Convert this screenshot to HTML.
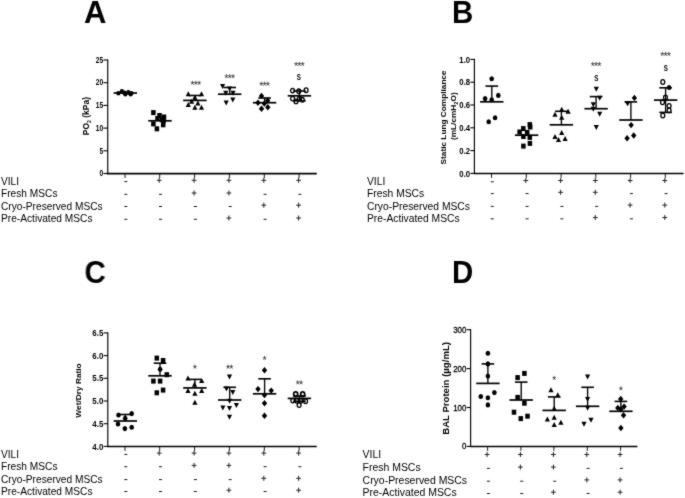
<!DOCTYPE html>
<html><head><meta charset="utf-8"><style>
html,body{margin:0;padding:0;background:#fff;}
svg{display:block;will-change:transform;}
text{font-family:"Liberation Sans", sans-serif;fill:#000;}
</style></head><body>
<svg width="685" height="498" viewBox="0 0 685 498">
<defs><filter id="sb" x="0" y="0" width="100%" height="100%" filterUnits="userSpaceOnUse" color-interpolation-filters="sRGB"><feConvolveMatrix order="3" kernelMatrix="1 2 1 2 20 2 1 2 1" preserveAlpha="false" edgeMode="none"/></filter></defs>
<rect width="685" height="498" fill="#fff"/>
<g filter="url(#sb)">
<text x="84.00" y="23.00" font-size="31" text-anchor="start" font-weight="bold" >A</text>
<line x1="107.75" y1="59.40" x2="107.75" y2="174.10" stroke="#000" stroke-width="1.15"/>
<line x1="106.80" y1="173.65" x2="316.80" y2="173.65" stroke="#000" stroke-width="1.6"/>
<line x1="103.40" y1="60.00" x2="107.75" y2="60.00" stroke="#000" stroke-width="1.1"/>
<text transform="translate(103.10,62.76) scale(0.78,1.0)" font-size="8.5" text-anchor="end" font-weight="bold" >25</text>
<line x1="103.40" y1="82.70" x2="107.75" y2="82.70" stroke="#000" stroke-width="1.1"/>
<text transform="translate(103.10,85.46) scale(0.78,1.0)" font-size="8.5" text-anchor="end" font-weight="bold" >20</text>
<line x1="103.40" y1="105.40" x2="107.75" y2="105.40" stroke="#000" stroke-width="1.1"/>
<text transform="translate(103.10,108.16) scale(0.78,1.0)" font-size="8.5" text-anchor="end" font-weight="bold" >15</text>
<line x1="103.40" y1="128.10" x2="107.75" y2="128.10" stroke="#000" stroke-width="1.1"/>
<text transform="translate(103.10,130.86) scale(0.78,1.0)" font-size="8.5" text-anchor="end" font-weight="bold" >10</text>
<line x1="103.40" y1="150.80" x2="107.75" y2="150.80" stroke="#000" stroke-width="1.1"/>
<text transform="translate(103.10,153.56) scale(0.78,1.0)" font-size="8.5" text-anchor="end" font-weight="bold" >5</text>
<line x1="103.40" y1="173.50" x2="107.75" y2="173.50" stroke="#000" stroke-width="1.1"/>
<text transform="translate(103.10,176.26) scale(0.78,1.0)" font-size="8.5" text-anchor="end" font-weight="bold" >0</text>
<line x1="125.00" y1="173.50" x2="125.00" y2="178.00" stroke="#000" stroke-width="0.9"/>
<line x1="159.70" y1="173.50" x2="159.70" y2="178.00" stroke="#000" stroke-width="0.9"/>
<line x1="194.60" y1="173.50" x2="194.60" y2="178.00" stroke="#000" stroke-width="0.9"/>
<line x1="229.40" y1="173.50" x2="229.40" y2="178.00" stroke="#000" stroke-width="0.9"/>
<line x1="264.30" y1="173.50" x2="264.30" y2="178.00" stroke="#000" stroke-width="0.9"/>
<line x1="299.10" y1="173.50" x2="299.10" y2="178.00" stroke="#000" stroke-width="0.9"/>
<text transform="translate(89.30,116.10) rotate(-90) scale(0.94,1)" font-size="9" font-weight="bold" text-anchor="middle">PO<tspan font-size="5.5" dy="1.8">2</tspan><tspan dy="-1.8"> (kPa)</tspan></text>
<ellipse cx="118.40" cy="93.30" rx="2.15" ry="2.3" fill="#000"/>
<ellipse cx="121.90" cy="91.40" rx="2.15" ry="2.3" fill="#000"/>
<ellipse cx="124.50" cy="92.80" rx="2.15" ry="2.3" fill="#000"/>
<ellipse cx="125.30" cy="94.20" rx="2.15" ry="2.3" fill="#000"/>
<ellipse cx="128.30" cy="92.40" rx="2.15" ry="2.3" fill="#000"/>
<ellipse cx="131.40" cy="93.30" rx="2.15" ry="2.3" fill="#000"/>
<ellipse cx="130.60" cy="94.30" rx="2.15" ry="2.3" fill="#000"/>
<line x1="113.60" y1="93.00" x2="137.00" y2="93.00" stroke="#000" stroke-width="1.7"/>
<rect x="151.15" y="110.10" width="4.5" height="5.0" fill="#000"/>
<rect x="157.25" y="113.00" width="4.5" height="5.0" fill="#000"/>
<rect x="161.75" y="114.50" width="4.5" height="5.0" fill="#000"/>
<rect x="155.25" y="116.00" width="4.5" height="5.0" fill="#000"/>
<rect x="159.75" y="117.30" width="4.5" height="5.0" fill="#000"/>
<rect x="161.35" y="118.30" width="4.5" height="5.0" fill="#000"/>
<rect x="151.15" y="121.40" width="4.5" height="5.0" fill="#000"/>
<rect x="160.95" y="122.30" width="4.5" height="5.0" fill="#000"/>
<rect x="154.65" y="126.30" width="4.5" height="5.0" fill="#000"/>
<line x1="148.30" y1="120.80" x2="171.70" y2="120.80" stroke="#000" stroke-width="1.7"/>
<line x1="194.90" y1="100.40" x2="194.90" y2="95.50" stroke="#000" stroke-width="1.35"/>
<line x1="188.60" y1="95.50" x2="201.20" y2="95.50" stroke="#000" stroke-width="1.6"/>
<path d="M188.30 91.20L190.90 96.20L185.70 96.20Z" fill="#000"/>
<path d="M201.50 91.20L204.10 96.20L198.90 96.20Z" fill="#000"/>
<path d="M194.90 94.80L197.50 99.80L192.30 99.80Z" fill="#000"/>
<path d="M191.60 98.70L194.20 103.70L189.00 103.70Z" fill="#000"/>
<path d="M188.30 102.00L190.90 107.00L185.70 107.00Z" fill="#000"/>
<path d="M197.90 100.50L200.50 105.50L195.30 105.50Z" fill="#000"/>
<path d="M194.90 104.80L197.50 109.80L192.30 109.80Z" fill="#000"/>
<path d="M201.50 104.80L204.10 109.80L198.90 109.80Z" fill="#000"/>
<line x1="183.20" y1="100.40" x2="206.60" y2="100.40" stroke="#000" stroke-width="1.7"/>
<path d="M192.50 82.90L192.50 80.77M192.50 82.90L194.26 82.24M192.50 82.90L190.74 82.24M192.50 82.90L193.59 84.62M192.50 82.90L191.41 84.62M195.80 82.90L195.80 80.77M195.80 82.90L197.56 82.24M195.80 82.90L194.04 82.24M195.80 82.90L196.89 84.62M195.80 82.90L194.71 84.62M199.10 82.90L199.10 80.77M199.10 82.90L200.86 82.24M199.10 82.90L197.34 82.24M199.10 82.90L200.19 84.62M199.10 82.90L198.01 84.62" stroke="#2a2a2a" stroke-width="0.75" fill="none"/>
<line x1="229.70" y1="94.20" x2="229.70" y2="87.50" stroke="#000" stroke-width="1.35"/>
<line x1="223.40" y1="87.50" x2="236.00" y2="87.50" stroke="#000" stroke-width="1.6"/>
<path d="M222.60 89.10L225.20 84.10L220.00 84.10Z" fill="#000"/>
<path d="M229.60 91.50L232.20 86.50L227.00 86.50Z" fill="#000"/>
<path d="M225.80 95.70L228.40 90.70L223.20 90.70Z" fill="#000"/>
<path d="M233.00 95.70L235.60 90.70L230.40 90.70Z" fill="#000"/>
<path d="M226.20 105.40L228.80 100.40L223.60 100.40Z" fill="#000"/>
<path d="M232.80 102.60L235.40 97.60L230.20 97.60Z" fill="#000"/>
<line x1="218.00" y1="94.20" x2="241.40" y2="94.20" stroke="#000" stroke-width="1.7"/>
<path d="M226.40 76.30L226.40 74.17M226.40 76.30L228.16 75.64M226.40 76.30L224.64 75.64M226.40 76.30L227.49 78.02M226.40 76.30L225.31 78.02M229.70 76.30L229.70 74.17M229.70 76.30L231.46 75.64M229.70 76.30L227.94 75.64M229.70 76.30L230.79 78.02M229.70 76.30L228.61 78.02M233.00 76.30L233.00 74.17M233.00 76.30L234.76 75.64M233.00 76.30L231.24 75.64M233.00 76.30L234.09 78.02M233.00 76.30L231.91 78.02" stroke="#2a2a2a" stroke-width="0.75" fill="none"/>
<line x1="264.60" y1="102.70" x2="264.60" y2="98.00" stroke="#000" stroke-width="1.35"/>
<line x1="258.30" y1="98.00" x2="270.90" y2="98.00" stroke="#000" stroke-width="1.6"/>
<path d="M261.50 92.70L264.20 95.90L261.50 99.10L258.80 95.90Z" fill="#000"/>
<path d="M258.00 99.60L260.70 102.80L258.00 106.00L255.30 102.80Z" fill="#000"/>
<path d="M267.60 97.20L270.30 100.40L267.60 103.60L264.90 100.40Z" fill="#000"/>
<path d="M264.30 100.40L267.00 103.60L264.30 106.80L261.60 103.60Z" fill="#000"/>
<path d="M261.50 105.60L264.20 108.80L261.50 112.00L258.80 108.80Z" fill="#000"/>
<path d="M267.80 104.10L270.50 107.30L267.80 110.50L265.10 107.30Z" fill="#000"/>
<line x1="252.90" y1="102.70" x2="276.30" y2="102.70" stroke="#000" stroke-width="1.7"/>
<path d="M261.30 83.80L261.30 81.67M261.30 83.80L263.06 83.14M261.30 83.80L259.54 83.14M261.30 83.80L262.39 85.52M261.30 83.80L260.21 85.52M264.60 83.80L264.60 81.67M264.60 83.80L266.36 83.14M264.60 83.80L262.84 83.14M264.60 83.80L265.69 85.52M264.60 83.80L263.51 85.52M267.90 83.80L267.90 81.67M267.90 83.80L269.66 83.14M267.90 83.80L266.14 83.14M267.90 83.80L268.99 85.52M267.90 83.80L266.81 85.52" stroke="#2a2a2a" stroke-width="0.75" fill="none"/>
<line x1="299.40" y1="95.80" x2="299.40" y2="91.00" stroke="#000" stroke-width="1.35"/>
<line x1="293.10" y1="91.00" x2="305.70" y2="91.00" stroke="#000" stroke-width="1.6"/>
<line x1="299.40" y1="95.80" x2="299.40" y2="100.80" stroke="#000" stroke-width="1.35"/>
<line x1="293.10" y1="100.80" x2="305.70" y2="100.80" stroke="#000" stroke-width="1.6"/>
<ellipse cx="292.60" cy="90.60" rx="1.95" ry="2.3" fill="none" stroke="#000" stroke-width="1.3"/>
<ellipse cx="298.80" cy="91.30" rx="1.95" ry="2.3" fill="none" stroke="#000" stroke-width="1.3"/>
<ellipse cx="306.10" cy="90.20" rx="1.95" ry="2.3" fill="none" stroke="#000" stroke-width="1.3"/>
<ellipse cx="292.60" cy="98.60" rx="1.95" ry="2.3" fill="none" stroke="#000" stroke-width="1.3"/>
<ellipse cx="296.00" cy="101.40" rx="1.95" ry="2.3" fill="none" stroke="#000" stroke-width="1.3"/>
<ellipse cx="299.50" cy="98.50" rx="1.95" ry="2.3" fill="none" stroke="#000" stroke-width="1.3"/>
<ellipse cx="302.30" cy="99.80" rx="1.95" ry="2.3" fill="none" stroke="#000" stroke-width="1.3"/>
<line x1="287.70" y1="95.80" x2="311.10" y2="95.80" stroke="#000" stroke-width="1.7"/>
<path d="M296.10 64.00L296.10 61.87M296.10 64.00L297.86 63.34M296.10 64.00L294.34 63.34M296.10 64.00L297.19 65.72M296.10 64.00L295.01 65.72M299.40 64.00L299.40 61.87M299.40 64.00L301.16 63.34M299.40 64.00L297.64 63.34M299.40 64.00L300.49 65.72M299.40 64.00L298.31 65.72M302.70 64.00L302.70 61.87M302.70 64.00L304.46 63.34M302.70 64.00L300.94 63.34M302.70 64.00L303.79 65.72M302.70 64.00L301.61 65.72" stroke="#2a2a2a" stroke-width="0.75" fill="none"/>
<text transform="translate(298.75,79.60) scale(0.72,1.0)" font-size="8.6" text-anchor="middle" font-weight="600" text-rendering="geometricPrecision">S</text>
<text transform="translate(1.00,184.60) scale(1.017,1.0)" font-size="10" text-anchor="start" font-weight="normal" >VILI</text>
<path d="M124.30 181.60H127.30" stroke="#1a1a1a" stroke-width="1.0" fill="none"/>
<path d="M156.80 180.30H161.60M159.20 177.80V182.80" stroke="#1a1a1a" stroke-width="0.95" fill="none"/>
<path d="M191.70 180.30H196.50M194.10 177.80V182.80" stroke="#1a1a1a" stroke-width="0.95" fill="none"/>
<path d="M226.50 180.30H231.30M228.90 177.80V182.80" stroke="#1a1a1a" stroke-width="0.95" fill="none"/>
<path d="M261.40 180.30H266.20M263.80 177.80V182.80" stroke="#1a1a1a" stroke-width="0.95" fill="none"/>
<path d="M296.20 180.30H301.00M298.60 177.80V182.80" stroke="#1a1a1a" stroke-width="0.95" fill="none"/>
<text transform="translate(1.00,197.40) scale(1.017,1.0)" font-size="10" text-anchor="start" font-weight="normal" >Fresh MSCs</text>
<path d="M124.30 194.30H127.30" stroke="#1a1a1a" stroke-width="1.0" fill="none"/>
<path d="M159.00 194.30H162.00" stroke="#1a1a1a" stroke-width="1.0" fill="none"/>
<path d="M191.70 193.00H196.50M194.10 190.50V195.50" stroke="#1a1a1a" stroke-width="0.95" fill="none"/>
<path d="M226.50 193.00H231.30M228.90 190.50V195.50" stroke="#1a1a1a" stroke-width="0.95" fill="none"/>
<path d="M263.60 194.30H266.60" stroke="#1a1a1a" stroke-width="1.0" fill="none"/>
<path d="M298.40 194.30H301.40" stroke="#1a1a1a" stroke-width="1.0" fill="none"/>
<text transform="translate(1.00,209.80) scale(1.017,1.0)" font-size="10" text-anchor="start" font-weight="normal" >Cryo-Preserved MSCs</text>
<path d="M124.30 206.50H127.30" stroke="#1a1a1a" stroke-width="1.0" fill="none"/>
<path d="M159.00 206.50H162.00" stroke="#1a1a1a" stroke-width="1.0" fill="none"/>
<path d="M193.90 206.50H196.90" stroke="#1a1a1a" stroke-width="1.0" fill="none"/>
<path d="M228.70 206.50H231.70" stroke="#1a1a1a" stroke-width="1.0" fill="none"/>
<path d="M261.40 205.20H266.20M263.80 202.70V207.70" stroke="#1a1a1a" stroke-width="0.95" fill="none"/>
<path d="M296.20 205.20H301.00M298.60 202.70V207.70" stroke="#1a1a1a" stroke-width="0.95" fill="none"/>
<text transform="translate(1.00,222.20) scale(1.017,1.0)" font-size="10" text-anchor="start" font-weight="normal" >Pre-Activated MSCs</text>
<path d="M124.30 219.30H127.30" stroke="#1a1a1a" stroke-width="1.0" fill="none"/>
<path d="M159.00 219.30H162.00" stroke="#1a1a1a" stroke-width="1.0" fill="none"/>
<path d="M193.90 219.30H196.90" stroke="#1a1a1a" stroke-width="1.0" fill="none"/>
<path d="M226.50 218.00H231.30M228.90 215.50V220.50" stroke="#1a1a1a" stroke-width="0.95" fill="none"/>
<path d="M263.60 219.30H266.60" stroke="#1a1a1a" stroke-width="1.0" fill="none"/>
<path d="M296.20 218.00H301.00M298.60 215.50V220.50" stroke="#1a1a1a" stroke-width="0.95" fill="none"/>
<text transform="translate(452.10,23.00) scale(0.95,1.0)" font-size="31" text-anchor="start" font-weight="bold" >B</text>
<line x1="474.40" y1="58.80" x2="474.40" y2="174.00" stroke="#000" stroke-width="1.15"/>
<line x1="473.80" y1="173.55" x2="683.60" y2="173.55" stroke="#000" stroke-width="1.6"/>
<line x1="470.40" y1="59.40" x2="474.40" y2="59.40" stroke="#000" stroke-width="1.1"/>
<text transform="translate(470.10,62.67) scale(0.88,1.0)" font-size="8.8" text-anchor="end" font-weight="bold" >1.0</text>
<line x1="470.40" y1="82.20" x2="474.40" y2="82.20" stroke="#000" stroke-width="1.1"/>
<text transform="translate(470.10,85.47) scale(0.88,1.0)" font-size="8.8" text-anchor="end" font-weight="bold" >0.8</text>
<line x1="470.40" y1="105.00" x2="474.40" y2="105.00" stroke="#000" stroke-width="1.1"/>
<text transform="translate(470.10,108.27) scale(0.88,1.0)" font-size="8.8" text-anchor="end" font-weight="bold" >0.6</text>
<line x1="470.40" y1="127.80" x2="474.40" y2="127.80" stroke="#000" stroke-width="1.1"/>
<text transform="translate(470.10,131.07) scale(0.88,1.0)" font-size="8.8" text-anchor="end" font-weight="bold" >0.4</text>
<line x1="470.40" y1="150.60" x2="474.40" y2="150.60" stroke="#000" stroke-width="1.1"/>
<text transform="translate(470.10,153.87) scale(0.88,1.0)" font-size="8.8" text-anchor="end" font-weight="bold" >0.2</text>
<line x1="470.40" y1="173.40" x2="474.40" y2="173.40" stroke="#000" stroke-width="1.1"/>
<text transform="translate(470.10,176.67) scale(0.88,1.0)" font-size="8.8" text-anchor="end" font-weight="bold" >0.0</text>
<line x1="491.50" y1="173.40" x2="491.50" y2="177.90" stroke="#000" stroke-width="0.9"/>
<line x1="526.30" y1="173.40" x2="526.30" y2="177.90" stroke="#000" stroke-width="0.9"/>
<line x1="561.10" y1="173.40" x2="561.10" y2="177.90" stroke="#000" stroke-width="0.9"/>
<line x1="595.80" y1="173.40" x2="595.80" y2="177.90" stroke="#000" stroke-width="0.9"/>
<line x1="630.60" y1="173.40" x2="630.60" y2="177.90" stroke="#000" stroke-width="0.9"/>
<line x1="665.30" y1="173.40" x2="665.30" y2="177.90" stroke="#000" stroke-width="0.9"/>
<text transform="translate(446.30,117.40) rotate(-90) scale(1.036,1)" font-size="8" font-weight="bold" text-anchor="middle">Static Lung Compliance</text>
<text transform="translate(455.80,116.20) rotate(-90) scale(1.036,1)" font-size="8" font-weight="bold" text-anchor="middle">(mL/cmH<tspan font-size="5.5" dy="1.8">2</tspan><tspan dy="-1.8">O)</tspan></text>
<line x1="491.80" y1="101.80" x2="491.80" y2="86.10" stroke="#000" stroke-width="1.35"/>
<line x1="485.50" y1="86.10" x2="498.10" y2="86.10" stroke="#000" stroke-width="1.6"/>
<ellipse cx="491.70" cy="78.80" rx="2.3" ry="2.55" fill="#000"/>
<ellipse cx="485.10" cy="98.60" rx="2.3" ry="2.55" fill="#000"/>
<ellipse cx="498.30" cy="95.40" rx="2.3" ry="2.55" fill="#000"/>
<ellipse cx="491.70" cy="99.70" rx="2.3" ry="2.55" fill="#000"/>
<ellipse cx="488.70" cy="121.70" rx="2.3" ry="2.55" fill="#000"/>
<ellipse cx="495.10" cy="117.70" rx="2.3" ry="2.55" fill="#000"/>
<line x1="480.10" y1="101.80" x2="503.50" y2="101.80" stroke="#000" stroke-width="1.7"/>
<rect x="527.55" y="122.10" width="4.5" height="5.0" fill="#000"/>
<rect x="527.95" y="124.50" width="4.5" height="5.0" fill="#000"/>
<rect x="521.05" y="126.10" width="4.5" height="5.0" fill="#000"/>
<rect x="517.35" y="129.50" width="4.5" height="5.0" fill="#000"/>
<rect x="524.95" y="129.90" width="4.5" height="5.0" fill="#000"/>
<rect x="521.15" y="134.00" width="4.5" height="5.0" fill="#000"/>
<rect x="527.55" y="134.90" width="4.5" height="5.0" fill="#000"/>
<rect x="521.15" y="143.60" width="4.5" height="5.0" fill="#000"/>
<rect x="527.65" y="140.90" width="4.5" height="5.0" fill="#000"/>
<line x1="514.90" y1="135.20" x2="538.30" y2="135.20" stroke="#000" stroke-width="1.7"/>
<line x1="561.40" y1="124.80" x2="561.40" y2="111.30" stroke="#000" stroke-width="1.35"/>
<line x1="555.10" y1="111.30" x2="567.70" y2="111.30" stroke="#000" stroke-width="1.6"/>
<path d="M555.00 111.80L557.60 116.80L552.40 116.80Z" fill="#000"/>
<path d="M561.70 106.80L564.30 111.80L559.10 111.80Z" fill="#000"/>
<path d="M568.10 108.80L570.70 113.80L565.50 113.80Z" fill="#000"/>
<path d="M561.70 114.80L564.30 119.80L559.10 119.80Z" fill="#000"/>
<path d="M555.00 133.90L557.60 138.90L552.40 138.90Z" fill="#000"/>
<path d="M561.70 129.90L564.30 134.90L559.10 134.90Z" fill="#000"/>
<path d="M565.10 135.90L567.70 140.90L562.50 140.90Z" fill="#000"/>
<path d="M558.50 136.90L561.10 141.90L555.90 141.90Z" fill="#000"/>
<line x1="549.70" y1="124.80" x2="573.10" y2="124.80" stroke="#000" stroke-width="1.7"/>
<line x1="596.10" y1="108.70" x2="596.10" y2="96.60" stroke="#000" stroke-width="1.35"/>
<line x1="589.80" y1="96.60" x2="602.40" y2="96.60" stroke="#000" stroke-width="1.6"/>
<path d="M596.30 91.70L598.90 86.70L593.70 86.70Z" fill="#000"/>
<path d="M599.70 100.70L602.30 95.70L597.10 95.70Z" fill="#000"/>
<path d="M593.30 107.20L595.90 102.20L590.70 102.20Z" fill="#000"/>
<path d="M593.30 111.80L595.90 106.80L590.70 106.80Z" fill="#000"/>
<path d="M599.70 116.80L602.30 111.80L597.10 111.80Z" fill="#000"/>
<path d="M596.30 129.90L598.90 124.90L593.70 124.90Z" fill="#000"/>
<line x1="584.40" y1="108.70" x2="607.80" y2="108.70" stroke="#000" stroke-width="1.7"/>
<path d="M592.80 64.10L592.80 61.97M592.80 64.10L594.56 63.44M592.80 64.10L591.04 63.44M592.80 64.10L593.89 65.82M592.80 64.10L591.71 65.82M596.10 64.10L596.10 61.97M596.10 64.10L597.86 63.44M596.10 64.10L594.34 63.44M596.10 64.10L597.19 65.82M596.10 64.10L595.01 65.82M599.40 64.10L599.40 61.97M599.40 64.10L601.16 63.44M599.40 64.10L597.64 63.44M599.40 64.10L600.49 65.82M599.40 64.10L598.31 65.82" stroke="#2a2a2a" stroke-width="0.75" fill="none"/>
<text transform="translate(596.20,80.80) scale(0.72,1.0)" font-size="8.6" text-anchor="middle" font-weight="600" text-rendering="geometricPrecision">S</text>
<line x1="630.90" y1="120.00" x2="630.90" y2="101.90" stroke="#000" stroke-width="1.35"/>
<line x1="624.60" y1="101.90" x2="637.20" y2="101.90" stroke="#000" stroke-width="1.6"/>
<path d="M634.40 94.70L637.10 97.90L634.40 101.10L631.70 97.90Z" fill="#000"/>
<path d="M627.60 106.30L630.70 101.10L624.50 101.10Z" fill="#000"/>
<path d="M631.10 121.90L633.80 125.10L631.10 128.30L628.40 125.10Z" fill="#000"/>
<path d="M627.10 135.10L629.80 138.30L627.10 141.50L624.40 138.30Z" fill="#000"/>
<path d="M633.70 132.30L636.40 135.50L633.70 138.70L631.00 135.50Z" fill="#000"/>
<line x1="619.20" y1="120.00" x2="642.60" y2="120.00" stroke="#000" stroke-width="1.7"/>
<line x1="665.60" y1="100.10" x2="665.60" y2="87.80" stroke="#000" stroke-width="1.35"/>
<line x1="659.30" y1="87.80" x2="671.90" y2="87.80" stroke="#000" stroke-width="1.6"/>
<line x1="665.60" y1="100.10" x2="665.60" y2="112.40" stroke="#000" stroke-width="1.35"/>
<line x1="659.30" y1="112.40" x2="671.90" y2="112.40" stroke="#000" stroke-width="1.6"/>
<ellipse cx="662.80" cy="82.00" rx="1.95" ry="2.3" fill="none" stroke="#000" stroke-width="1.3"/>
<ellipse cx="669.10" cy="87.50" rx="2.3" ry="2.55" fill="#000"/>
<ellipse cx="665.50" cy="97.50" rx="1.95" ry="2.3" fill="none" stroke="#000" stroke-width="1.3"/>
<ellipse cx="662.50" cy="102.30" rx="1.95" ry="2.3" fill="none" stroke="#000" stroke-width="1.3"/>
<ellipse cx="669.10" cy="105.90" rx="1.95" ry="2.3" fill="none" stroke="#000" stroke-width="1.3"/>
<ellipse cx="669.10" cy="110.40" rx="1.95" ry="2.3" fill="none" stroke="#000" stroke-width="1.3"/>
<ellipse cx="662.80" cy="115.50" rx="1.95" ry="2.3" fill="none" stroke="#000" stroke-width="1.3"/>
<line x1="653.90" y1="100.10" x2="677.30" y2="100.10" stroke="#000" stroke-width="1.7"/>
<path d="M662.30 54.00L662.30 51.87M662.30 54.00L664.06 53.34M662.30 54.00L660.54 53.34M662.30 54.00L663.39 55.72M662.30 54.00L661.21 55.72M665.60 54.00L665.60 51.87M665.60 54.00L667.36 53.34M665.60 54.00L663.84 53.34M665.60 54.00L666.69 55.72M665.60 54.00L664.51 55.72M668.90 54.00L668.90 51.87M668.90 54.00L670.66 53.34M668.90 54.00L667.14 53.34M668.90 54.00L669.99 55.72M668.90 54.00L667.81 55.72" stroke="#2a2a2a" stroke-width="0.75" fill="none"/>
<text transform="translate(665.70,70.80) scale(0.72,1.0)" font-size="8.6" text-anchor="middle" font-weight="600" text-rendering="geometricPrecision">S</text>
<text transform="translate(367.00,184.50) scale(1.03,1.0)" font-size="10" text-anchor="start" font-weight="normal" >VILI</text>
<path d="M490.80 181.80H493.80" stroke="#1a1a1a" stroke-width="1.0" fill="none"/>
<path d="M523.40 180.50H528.20M525.80 178.00V183.00" stroke="#1a1a1a" stroke-width="0.95" fill="none"/>
<path d="M558.20 180.50H563.00M560.60 178.00V183.00" stroke="#1a1a1a" stroke-width="0.95" fill="none"/>
<path d="M592.90 180.50H597.70M595.30 178.00V183.00" stroke="#1a1a1a" stroke-width="0.95" fill="none"/>
<path d="M627.70 180.50H632.50M630.10 178.00V183.00" stroke="#1a1a1a" stroke-width="0.95" fill="none"/>
<path d="M662.40 180.50H667.20M664.80 178.00V183.00" stroke="#1a1a1a" stroke-width="0.95" fill="none"/>
<text transform="translate(367.00,196.90) scale(1.03,1.0)" font-size="10" text-anchor="start" font-weight="normal" >Fresh MSCs</text>
<path d="M490.80 193.60H493.80" stroke="#1a1a1a" stroke-width="1.0" fill="none"/>
<path d="M525.60 193.60H528.60" stroke="#1a1a1a" stroke-width="1.0" fill="none"/>
<path d="M558.20 192.30H563.00M560.60 189.80V194.80" stroke="#1a1a1a" stroke-width="0.95" fill="none"/>
<path d="M592.90 192.30H597.70M595.30 189.80V194.80" stroke="#1a1a1a" stroke-width="0.95" fill="none"/>
<path d="M629.90 193.60H632.90" stroke="#1a1a1a" stroke-width="1.0" fill="none"/>
<path d="M664.60 193.60H667.60" stroke="#1a1a1a" stroke-width="1.0" fill="none"/>
<text transform="translate(367.00,209.50) scale(1.03,1.0)" font-size="10" text-anchor="start" font-weight="normal" >Cryo-Preserved MSCs</text>
<path d="M490.80 206.40H493.80" stroke="#1a1a1a" stroke-width="1.0" fill="none"/>
<path d="M525.60 206.40H528.60" stroke="#1a1a1a" stroke-width="1.0" fill="none"/>
<path d="M560.40 206.40H563.40" stroke="#1a1a1a" stroke-width="1.0" fill="none"/>
<path d="M595.10 206.40H598.10" stroke="#1a1a1a" stroke-width="1.0" fill="none"/>
<path d="M627.70 205.10H632.50M630.10 202.60V207.60" stroke="#1a1a1a" stroke-width="0.95" fill="none"/>
<path d="M662.40 205.10H667.20M664.80 202.60V207.60" stroke="#1a1a1a" stroke-width="0.95" fill="none"/>
<text transform="translate(367.00,221.90) scale(1.03,1.0)" font-size="10" text-anchor="start" font-weight="normal" >Pre-Activated MSCs</text>
<path d="M490.80 218.80H493.80" stroke="#1a1a1a" stroke-width="1.0" fill="none"/>
<path d="M525.60 218.80H528.60" stroke="#1a1a1a" stroke-width="1.0" fill="none"/>
<path d="M560.40 218.80H563.40" stroke="#1a1a1a" stroke-width="1.0" fill="none"/>
<path d="M592.90 217.50H597.70M595.30 215.00V220.00" stroke="#1a1a1a" stroke-width="0.95" fill="none"/>
<path d="M629.90 218.80H632.90" stroke="#1a1a1a" stroke-width="1.0" fill="none"/>
<path d="M662.40 217.50H667.20M664.80 215.00V220.00" stroke="#1a1a1a" stroke-width="0.95" fill="none"/>
<text transform="translate(84.50,283.00) scale(0.95,1.0)" font-size="31" text-anchor="start" font-weight="bold" >C</text>
<line x1="107.80" y1="332.30" x2="107.80" y2="447.00" stroke="#000" stroke-width="1.15"/>
<line x1="107.00" y1="446.55" x2="316.80" y2="446.55" stroke="#000" stroke-width="1.6"/>
<line x1="103.60" y1="332.90" x2="107.80" y2="332.90" stroke="#000" stroke-width="1.1"/>
<text transform="translate(103.30,336.07) scale(0.9,1.0)" font-size="8.8" text-anchor="end" font-weight="bold" >6.5</text>
<line x1="103.60" y1="355.60" x2="107.80" y2="355.60" stroke="#000" stroke-width="1.1"/>
<text transform="translate(103.30,358.77) scale(0.9,1.0)" font-size="8.8" text-anchor="end" font-weight="bold" >6.0</text>
<line x1="103.60" y1="378.30" x2="107.80" y2="378.30" stroke="#000" stroke-width="1.1"/>
<text transform="translate(103.30,381.47) scale(0.9,1.0)" font-size="8.8" text-anchor="end" font-weight="bold" >5.5</text>
<line x1="103.60" y1="401.00" x2="107.80" y2="401.00" stroke="#000" stroke-width="1.1"/>
<text transform="translate(103.30,404.17) scale(0.9,1.0)" font-size="8.8" text-anchor="end" font-weight="bold" >5.0</text>
<line x1="103.60" y1="423.70" x2="107.80" y2="423.70" stroke="#000" stroke-width="1.1"/>
<text transform="translate(103.30,426.87) scale(0.9,1.0)" font-size="8.8" text-anchor="end" font-weight="bold" >4.5</text>
<line x1="103.60" y1="446.40" x2="107.80" y2="446.40" stroke="#000" stroke-width="1.1"/>
<text transform="translate(103.30,449.57) scale(0.9,1.0)" font-size="8.8" text-anchor="end" font-weight="bold" >4.0</text>
<line x1="125.00" y1="446.40" x2="125.00" y2="450.90" stroke="#000" stroke-width="0.9"/>
<line x1="159.70" y1="446.40" x2="159.70" y2="450.90" stroke="#000" stroke-width="0.9"/>
<line x1="194.60" y1="446.40" x2="194.60" y2="450.90" stroke="#000" stroke-width="0.9"/>
<line x1="229.40" y1="446.40" x2="229.40" y2="450.90" stroke="#000" stroke-width="0.9"/>
<line x1="264.30" y1="446.40" x2="264.30" y2="450.90" stroke="#000" stroke-width="0.9"/>
<line x1="299.10" y1="446.40" x2="299.10" y2="450.90" stroke="#000" stroke-width="0.9"/>
<text transform="translate(81.30,390.50) rotate(-90) scale(1.04,1)" font-size="8" font-weight="bold" text-anchor="middle">Wet/Dry Ratio</text>
<line x1="125.30" y1="421.00" x2="125.30" y2="414.50" stroke="#000" stroke-width="1.35"/>
<line x1="119.00" y1="414.50" x2="131.60" y2="414.50" stroke="#000" stroke-width="1.6"/>
<ellipse cx="118.50" cy="415.00" rx="2.3" ry="2.55" fill="#000"/>
<ellipse cx="131.70" cy="413.60" rx="2.3" ry="2.55" fill="#000"/>
<ellipse cx="125.20" cy="418.30" rx="2.3" ry="2.55" fill="#000"/>
<ellipse cx="118.00" cy="424.00" rx="2.3" ry="2.55" fill="#000"/>
<ellipse cx="124.90" cy="428.60" rx="2.3" ry="2.55" fill="#000"/>
<ellipse cx="131.70" cy="427.30" rx="2.3" ry="2.55" fill="#000"/>
<line x1="113.60" y1="421.00" x2="137.00" y2="421.00" stroke="#000" stroke-width="1.7"/>
<line x1="160.00" y1="375.80" x2="160.00" y2="363.20" stroke="#000" stroke-width="1.35"/>
<line x1="153.70" y1="363.20" x2="166.30" y2="363.20" stroke="#000" stroke-width="1.6"/>
<rect x="154.55" y="355.60" width="4.5" height="5.0" fill="#000"/>
<rect x="160.85" y="358.00" width="4.5" height="5.0" fill="#000"/>
<ellipse cx="160.10" cy="369.30" rx="2.3" ry="2.55" fill="#000"/>
<rect x="164.55" y="372.20" width="4.5" height="5.0" fill="#000"/>
<rect x="151.15" y="378.60" width="4.5" height="5.0" fill="#000"/>
<rect x="157.85" y="378.60" width="4.5" height="5.0" fill="#000"/>
<rect x="154.55" y="390.30" width="4.5" height="5.0" fill="#000"/>
<rect x="160.85" y="387.60" width="4.5" height="5.0" fill="#000"/>
<line x1="148.30" y1="375.80" x2="171.70" y2="375.80" stroke="#000" stroke-width="1.7"/>
<line x1="194.90" y1="387.90" x2="194.90" y2="379.40" stroke="#000" stroke-width="1.35"/>
<line x1="188.60" y1="379.40" x2="201.20" y2="379.40" stroke="#000" stroke-width="1.6"/>
<path d="M188.00 375.40L190.60 380.40L185.40 380.40Z" fill="#000"/>
<path d="M201.70 378.10L204.30 383.10L199.10 383.10Z" fill="#000"/>
<path d="M194.50 381.70L197.10 386.70L191.90 386.70Z" fill="#000"/>
<path d="M188.00 388.10L190.60 393.10L185.40 393.10Z" fill="#000"/>
<path d="M201.70 388.10L204.30 393.10L199.10 393.10Z" fill="#000"/>
<path d="M194.90 390.80L197.50 395.80L192.30 395.80Z" fill="#000"/>
<path d="M194.90 399.80L197.50 404.80L192.30 404.80Z" fill="#000"/>
<line x1="183.20" y1="387.90" x2="206.60" y2="387.90" stroke="#000" stroke-width="1.7"/>
<path d="M194.90 366.80L194.90 364.67M194.90 366.80L196.66 366.14M194.90 366.80L193.14 366.14M194.90 366.80L195.99 368.52M194.90 366.80L193.81 368.52" stroke="#2a2a2a" stroke-width="0.75" fill="none"/>
<line x1="229.70" y1="400.00" x2="229.70" y2="387.30" stroke="#000" stroke-width="1.35"/>
<line x1="223.40" y1="387.30" x2="236.00" y2="387.30" stroke="#000" stroke-width="1.6"/>
<path d="M229.50 379.50L232.10 374.50L226.90 374.50Z" fill="#000"/>
<path d="M226.50 391.50L229.10 386.50L223.90 386.50Z" fill="#000"/>
<path d="M232.80 394.90L235.40 389.90L230.20 389.90Z" fill="#000"/>
<path d="M229.60 403.70L232.20 398.70L227.00 398.70Z" fill="#000"/>
<path d="M222.90 410.40L225.50 405.40L220.30 405.40Z" fill="#000"/>
<path d="M229.50 411.00L232.10 406.00L226.90 406.00Z" fill="#000"/>
<path d="M236.40 408.10L239.00 403.10L233.80 403.10Z" fill="#000"/>
<path d="M229.50 419.80L232.10 414.80L226.90 414.80Z" fill="#000"/>
<line x1="218.00" y1="400.00" x2="241.40" y2="400.00" stroke="#000" stroke-width="1.7"/>
<path d="M228.05 366.80L228.05 364.67M228.05 366.80L229.81 366.14M228.05 366.80L226.29 366.14M228.05 366.80L229.14 368.52M228.05 366.80L226.96 368.52M231.35 366.80L231.35 364.67M231.35 366.80L233.11 366.14M231.35 366.80L229.59 366.14M231.35 366.80L232.44 368.52M231.35 366.80L230.26 368.52" stroke="#2a2a2a" stroke-width="0.75" fill="none"/>
<line x1="264.60" y1="393.80" x2="264.60" y2="378.80" stroke="#000" stroke-width="1.35"/>
<line x1="258.30" y1="378.80" x2="270.90" y2="378.80" stroke="#000" stroke-width="1.6"/>
<path d="M264.50 367.10L267.20 370.30L264.50 373.50L261.80 370.30Z" fill="#000"/>
<path d="M258.00 385.90L260.70 389.10L258.00 392.30L255.30 389.10Z" fill="#000"/>
<path d="M271.20 387.40L273.90 390.60L271.20 393.80L268.50 390.60Z" fill="#000"/>
<path d="M264.50 391.90L267.20 395.10L264.50 398.30L261.80 395.10Z" fill="#000"/>
<path d="M264.50 400.00L267.20 403.20L264.50 406.40L261.80 403.20Z" fill="#000"/>
<path d="M264.50 412.60L267.20 415.80L264.50 419.00L261.80 415.80Z" fill="#000"/>
<line x1="252.90" y1="393.80" x2="276.30" y2="393.80" stroke="#000" stroke-width="1.7"/>
<path d="M264.60 358.10L264.60 355.97M264.60 358.10L266.36 357.44M264.60 358.10L262.84 357.44M264.60 358.10L265.69 359.82M264.60 358.10L263.51 359.82" stroke="#2a2a2a" stroke-width="0.75" fill="none"/>
<line x1="299.40" y1="398.40" x2="299.40" y2="396.00" stroke="#000" stroke-width="1.35"/>
<line x1="293.10" y1="396.00" x2="305.70" y2="396.00" stroke="#000" stroke-width="1.6"/>
<line x1="299.40" y1="398.40" x2="299.40" y2="401.20" stroke="#000" stroke-width="1.35"/>
<line x1="293.10" y1="401.20" x2="305.70" y2="401.20" stroke="#000" stroke-width="1.6"/>
<ellipse cx="295.70" cy="394.20" rx="2.0" ry="2.35" fill="none" stroke="#000" stroke-width="1.75"/>
<ellipse cx="302.70" cy="394.20" rx="2.0" ry="2.35" fill="none" stroke="#000" stroke-width="1.75"/>
<ellipse cx="292.80" cy="400.60" rx="1.95" ry="2.3" fill="none" stroke="#000" stroke-width="1.3"/>
<ellipse cx="296.80" cy="400.80" rx="1.95" ry="2.3" fill="none" stroke="#000" stroke-width="1.3"/>
<ellipse cx="300.90" cy="400.80" rx="1.95" ry="2.3" fill="none" stroke="#000" stroke-width="1.3"/>
<ellipse cx="305.60" cy="401.20" rx="1.95" ry="2.3" fill="none" stroke="#000" stroke-width="1.3"/>
<ellipse cx="299.10" cy="405.10" rx="1.95" ry="2.3" fill="none" stroke="#000" stroke-width="1.3"/>
<line x1="287.70" y1="398.40" x2="311.10" y2="398.40" stroke="#000" stroke-width="1.7"/>
<path d="M297.75 382.50L297.75 380.37M297.75 382.50L299.51 381.84M297.75 382.50L295.99 381.84M297.75 382.50L298.84 384.22M297.75 382.50L296.66 384.22M301.05 382.50L301.05 380.37M301.05 382.50L302.81 381.84M301.05 382.50L299.29 381.84M301.05 382.50L302.14 384.22M301.05 382.50L299.96 384.22" stroke="#2a2a2a" stroke-width="0.75" fill="none"/>
<text transform="translate(1.00,457.60) scale(1.017,1.0)" font-size="10" text-anchor="start" font-weight="normal" >VILI</text>
<path d="M124.30 454.40H127.30" stroke="#1a1a1a" stroke-width="1.0" fill="none"/>
<path d="M156.80 453.10H161.60M159.20 450.60V455.60" stroke="#1a1a1a" stroke-width="0.95" fill="none"/>
<path d="M191.70 453.10H196.50M194.10 450.60V455.60" stroke="#1a1a1a" stroke-width="0.95" fill="none"/>
<path d="M226.50 453.10H231.30M228.90 450.60V455.60" stroke="#1a1a1a" stroke-width="0.95" fill="none"/>
<path d="M261.40 453.10H266.20M263.80 450.60V455.60" stroke="#1a1a1a" stroke-width="0.95" fill="none"/>
<path d="M296.20 453.10H301.00M298.60 450.60V455.60" stroke="#1a1a1a" stroke-width="0.95" fill="none"/>
<text transform="translate(1.00,470.10) scale(1.017,1.0)" font-size="10" text-anchor="start" font-weight="normal" >Fresh MSCs</text>
<path d="M124.30 466.70H127.30" stroke="#1a1a1a" stroke-width="1.0" fill="none"/>
<path d="M159.00 466.70H162.00" stroke="#1a1a1a" stroke-width="1.0" fill="none"/>
<path d="M191.70 465.40H196.50M194.10 462.90V467.90" stroke="#1a1a1a" stroke-width="0.95" fill="none"/>
<path d="M226.50 465.40H231.30M228.90 462.90V467.90" stroke="#1a1a1a" stroke-width="0.95" fill="none"/>
<path d="M263.60 466.70H266.60" stroke="#1a1a1a" stroke-width="1.0" fill="none"/>
<path d="M298.40 466.70H301.40" stroke="#1a1a1a" stroke-width="1.0" fill="none"/>
<text transform="translate(1.00,482.70) scale(1.017,1.0)" font-size="10" text-anchor="start" font-weight="normal" >Cryo-Preserved MSCs</text>
<path d="M124.30 479.60H127.30" stroke="#1a1a1a" stroke-width="1.0" fill="none"/>
<path d="M159.00 479.60H162.00" stroke="#1a1a1a" stroke-width="1.0" fill="none"/>
<path d="M193.90 479.60H196.90" stroke="#1a1a1a" stroke-width="1.0" fill="none"/>
<path d="M228.70 479.60H231.70" stroke="#1a1a1a" stroke-width="1.0" fill="none"/>
<path d="M261.40 478.30H266.20M263.80 475.80V480.80" stroke="#1a1a1a" stroke-width="0.95" fill="none"/>
<path d="M296.20 478.30H301.00M298.60 475.80V480.80" stroke="#1a1a1a" stroke-width="0.95" fill="none"/>
<text transform="translate(1.00,494.80) scale(1.017,1.0)" font-size="10" text-anchor="start" font-weight="normal" >Pre-Activated MSCs</text>
<path d="M124.30 491.50H127.30" stroke="#1a1a1a" stroke-width="1.0" fill="none"/>
<path d="M159.00 491.50H162.00" stroke="#1a1a1a" stroke-width="1.0" fill="none"/>
<path d="M193.90 491.50H196.90" stroke="#1a1a1a" stroke-width="1.0" fill="none"/>
<path d="M226.50 490.20H231.30M228.90 487.70V492.70" stroke="#1a1a1a" stroke-width="0.95" fill="none"/>
<path d="M263.60 491.50H266.60" stroke="#1a1a1a" stroke-width="1.0" fill="none"/>
<path d="M296.20 490.20H301.00M298.60 487.70V492.70" stroke="#1a1a1a" stroke-width="0.95" fill="none"/>
<text transform="translate(452.10,283.00) scale(0.95,1.0)" font-size="31" text-anchor="start" font-weight="bold" >D</text>
<line x1="470.60" y1="329.10" x2="470.60" y2="447.00" stroke="#000" stroke-width="1.15"/>
<line x1="470.00" y1="446.55" x2="637.40" y2="446.55" stroke="#000" stroke-width="1.6"/>
<line x1="466.60" y1="329.70" x2="470.60" y2="329.70" stroke="#000" stroke-width="1.1"/>
<text transform="translate(466.30,332.78) scale(0.84,1.0)" font-size="9.4" text-anchor="end" font-weight="normal" stroke="#000" stroke-width="0.3">300</text>
<line x1="466.60" y1="368.60" x2="470.60" y2="368.60" stroke="#000" stroke-width="1.1"/>
<text transform="translate(466.30,371.68) scale(0.84,1.0)" font-size="9.4" text-anchor="end" font-weight="normal" stroke="#000" stroke-width="0.3">200</text>
<line x1="466.60" y1="407.50" x2="470.60" y2="407.50" stroke="#000" stroke-width="1.1"/>
<text transform="translate(466.30,410.58) scale(0.84,1.0)" font-size="9.4" text-anchor="end" font-weight="normal" stroke="#000" stroke-width="0.3">100</text>
<line x1="466.60" y1="446.40" x2="470.60" y2="446.40" stroke="#000" stroke-width="1.1"/>
<text transform="translate(466.30,449.48) scale(0.84,1.0)" font-size="9.4" text-anchor="end" font-weight="normal" stroke="#000" stroke-width="0.3">0</text>
<line x1="487.60" y1="446.40" x2="487.60" y2="450.90" stroke="#000" stroke-width="0.9"/>
<line x1="520.90" y1="446.40" x2="520.90" y2="450.90" stroke="#000" stroke-width="0.9"/>
<line x1="553.90" y1="446.40" x2="553.90" y2="450.90" stroke="#000" stroke-width="0.9"/>
<line x1="587.30" y1="446.40" x2="587.30" y2="450.90" stroke="#000" stroke-width="0.9"/>
<line x1="620.60" y1="446.40" x2="620.60" y2="450.90" stroke="#000" stroke-width="0.9"/>
<text transform="translate(448.90,388.40) rotate(-90) scale(1,1)" font-size="9.6" font-weight="bold" text-anchor="middle">BAL Protein (µg/mL)</text>
<line x1="487.90" y1="383.40" x2="487.90" y2="363.90" stroke="#000" stroke-width="1.35"/>
<line x1="481.60" y1="363.90" x2="494.20" y2="363.90" stroke="#000" stroke-width="1.6"/>
<ellipse cx="487.90" cy="353.20" rx="2.3" ry="2.55" fill="#000"/>
<ellipse cx="487.90" cy="363.90" rx="2.3" ry="2.55" fill="#000"/>
<ellipse cx="487.90" cy="376.10" rx="2.3" ry="2.55" fill="#000"/>
<ellipse cx="480.80" cy="396.50" rx="2.3" ry="2.55" fill="#000"/>
<ellipse cx="487.90" cy="397.80" rx="2.3" ry="2.55" fill="#000"/>
<ellipse cx="494.40" cy="392.60" rx="2.3" ry="2.55" fill="#000"/>
<ellipse cx="487.90" cy="404.90" rx="2.3" ry="2.55" fill="#000"/>
<line x1="476.20" y1="383.40" x2="499.60" y2="383.40" stroke="#000" stroke-width="1.7"/>
<line x1="521.20" y1="400.00" x2="521.20" y2="382.10" stroke="#000" stroke-width="1.35"/>
<line x1="514.90" y1="382.10" x2="527.50" y2="382.10" stroke="#000" stroke-width="1.6"/>
<rect x="522.15" y="370.90" width="4.5" height="5.0" fill="#000"/>
<rect x="515.35" y="375.10" width="4.5" height="5.0" fill="#000"/>
<rect x="515.35" y="394.90" width="4.5" height="5.0" fill="#000"/>
<rect x="522.15" y="400.70" width="4.5" height="5.0" fill="#000"/>
<rect x="511.75" y="409.70" width="4.5" height="5.0" fill="#000"/>
<rect x="518.55" y="416.10" width="4.5" height="5.0" fill="#000"/>
<rect x="525.25" y="413.70" width="4.5" height="5.0" fill="#000"/>
<line x1="509.50" y1="400.00" x2="532.90" y2="400.00" stroke="#000" stroke-width="1.7"/>
<line x1="554.20" y1="410.40" x2="554.20" y2="396.90" stroke="#000" stroke-width="1.35"/>
<line x1="547.90" y1="396.90" x2="560.50" y2="396.90" stroke="#000" stroke-width="1.6"/>
<path d="M551.00 387.20L553.60 392.20L548.40 392.20Z" fill="#000"/>
<path d="M557.80 392.20L560.40 397.20L555.20 397.20Z" fill="#000"/>
<path d="M554.20 405.80L556.80 410.80L551.60 410.80Z" fill="#000"/>
<path d="M547.40 416.60L550.00 421.60L544.80 421.60Z" fill="#000"/>
<path d="M554.20 414.80L556.80 419.80L551.60 419.80Z" fill="#000"/>
<path d="M560.90 419.70L563.50 424.70L558.30 424.70Z" fill="#000"/>
<path d="M554.20 422.00L556.80 427.00L551.60 427.00Z" fill="#000"/>
<line x1="542.50" y1="410.40" x2="565.90" y2="410.40" stroke="#000" stroke-width="1.7"/>
<path d="M554.20 378.00L554.20 375.87M554.20 378.00L555.96 377.34M554.20 378.00L552.44 377.34M554.20 378.00L555.29 379.72M554.20 378.00L553.11 379.72" stroke="#2a2a2a" stroke-width="0.75" fill="none"/>
<line x1="587.60" y1="406.30" x2="587.60" y2="387.30" stroke="#000" stroke-width="1.35"/>
<line x1="581.30" y1="387.30" x2="593.90" y2="387.30" stroke="#000" stroke-width="1.6"/>
<path d="M587.60 379.50L590.20 374.50L585.00 374.50Z" fill="#000"/>
<path d="M587.60 402.10L590.20 397.10L585.00 397.10Z" fill="#000"/>
<path d="M587.60 410.80L590.20 405.80L585.00 405.80Z" fill="#000"/>
<path d="M584.00 426.80L586.60 421.80L581.40 421.80Z" fill="#000"/>
<path d="M591.00 422.70L593.60 417.70L588.40 417.70Z" fill="#000"/>
<line x1="575.90" y1="406.30" x2="599.30" y2="406.30" stroke="#000" stroke-width="1.7"/>
<line x1="620.90" y1="411.30" x2="620.90" y2="401.40" stroke="#000" stroke-width="1.35"/>
<line x1="614.60" y1="401.40" x2="627.20" y2="401.40" stroke="#000" stroke-width="1.6"/>
<path d="M620.70 395.70L623.40 398.90L620.70 402.10L618.00 398.90Z" fill="#000"/>
<path d="M617.80 404.70L620.50 407.90L617.80 411.10L615.10 407.90Z" fill="#000"/>
<path d="M624.10 403.40L626.80 406.60L624.10 409.80L621.40 406.60Z" fill="#000"/>
<path d="M620.80 406.00L623.50 409.20L620.80 412.40L618.10 409.20Z" fill="#000"/>
<path d="M623.50 412.10L626.20 415.30L623.50 418.50L620.80 415.30Z" fill="#000"/>
<path d="M620.90 424.80L623.60 428.00L620.90 431.20L618.20 428.00Z" fill="#000"/>
<line x1="609.20" y1="411.30" x2="632.60" y2="411.30" stroke="#000" stroke-width="1.7"/>
<path d="M620.90 388.50L620.90 386.37M620.90 388.50L622.66 387.84M620.90 388.50L619.14 387.84M620.90 388.50L621.99 390.22M620.90 388.50L619.81 390.22" stroke="#2a2a2a" stroke-width="0.75" fill="none"/>
<text transform="translate(362.60,458.40) scale(1.046,1.0)" font-size="10" text-anchor="start" font-weight="normal" >VILI</text>
<path d="M484.70 454.50H489.50M487.10 452.00V457.00" stroke="#1a1a1a" stroke-width="0.95" fill="none"/>
<path d="M518.00 454.50H522.80M520.40 452.00V457.00" stroke="#1a1a1a" stroke-width="0.95" fill="none"/>
<path d="M551.00 454.50H555.80M553.40 452.00V457.00" stroke="#1a1a1a" stroke-width="0.95" fill="none"/>
<path d="M584.40 454.50H589.20M586.80 452.00V457.00" stroke="#1a1a1a" stroke-width="0.95" fill="none"/>
<path d="M617.70 454.50H622.50M620.10 452.00V457.00" stroke="#1a1a1a" stroke-width="0.95" fill="none"/>
<text transform="translate(362.60,471.20) scale(1.046,1.0)" font-size="10" text-anchor="start" font-weight="normal" >Fresh MSCs</text>
<path d="M486.90 468.40H489.90" stroke="#1a1a1a" stroke-width="1.0" fill="none"/>
<path d="M518.00 467.10H522.80M520.40 464.60V469.60" stroke="#1a1a1a" stroke-width="0.95" fill="none"/>
<path d="M551.00 467.10H555.80M553.40 464.60V469.60" stroke="#1a1a1a" stroke-width="0.95" fill="none"/>
<path d="M586.60 468.40H589.60" stroke="#1a1a1a" stroke-width="1.0" fill="none"/>
<path d="M619.90 468.40H622.90" stroke="#1a1a1a" stroke-width="1.0" fill="none"/>
<text transform="translate(362.60,483.80) scale(1.046,1.0)" font-size="10" text-anchor="start" font-weight="normal" >Cryo-Preserved MSCs</text>
<path d="M486.90 481.20H489.90" stroke="#1a1a1a" stroke-width="1.0" fill="none"/>
<path d="M520.20 481.20H523.20" stroke="#1a1a1a" stroke-width="1.0" fill="none"/>
<path d="M553.20 481.20H556.20" stroke="#1a1a1a" stroke-width="1.0" fill="none"/>
<path d="M584.40 479.90H589.20M586.80 477.40V482.40" stroke="#1a1a1a" stroke-width="0.95" fill="none"/>
<path d="M617.70 479.90H622.50M620.10 477.40V482.40" stroke="#1a1a1a" stroke-width="0.95" fill="none"/>
<text transform="translate(362.60,496.40) scale(1.046,1.0)" font-size="10" text-anchor="start" font-weight="normal" >Pre-Activated MSCs</text>
<path d="M486.90 493.50H489.90" stroke="#1a1a1a" stroke-width="1.0" fill="none"/>
<path d="M520.20 493.50H523.20" stroke="#1a1a1a" stroke-width="1.0" fill="none"/>
<path d="M551.00 492.20H555.80M553.40 489.70V494.70" stroke="#1a1a1a" stroke-width="0.95" fill="none"/>
<path d="M586.60 493.50H589.60" stroke="#1a1a1a" stroke-width="1.0" fill="none"/>
<path d="M617.70 492.20H622.50M620.10 489.70V494.70" stroke="#1a1a1a" stroke-width="0.95" fill="none"/>
</g>
</svg>
</body></html>
